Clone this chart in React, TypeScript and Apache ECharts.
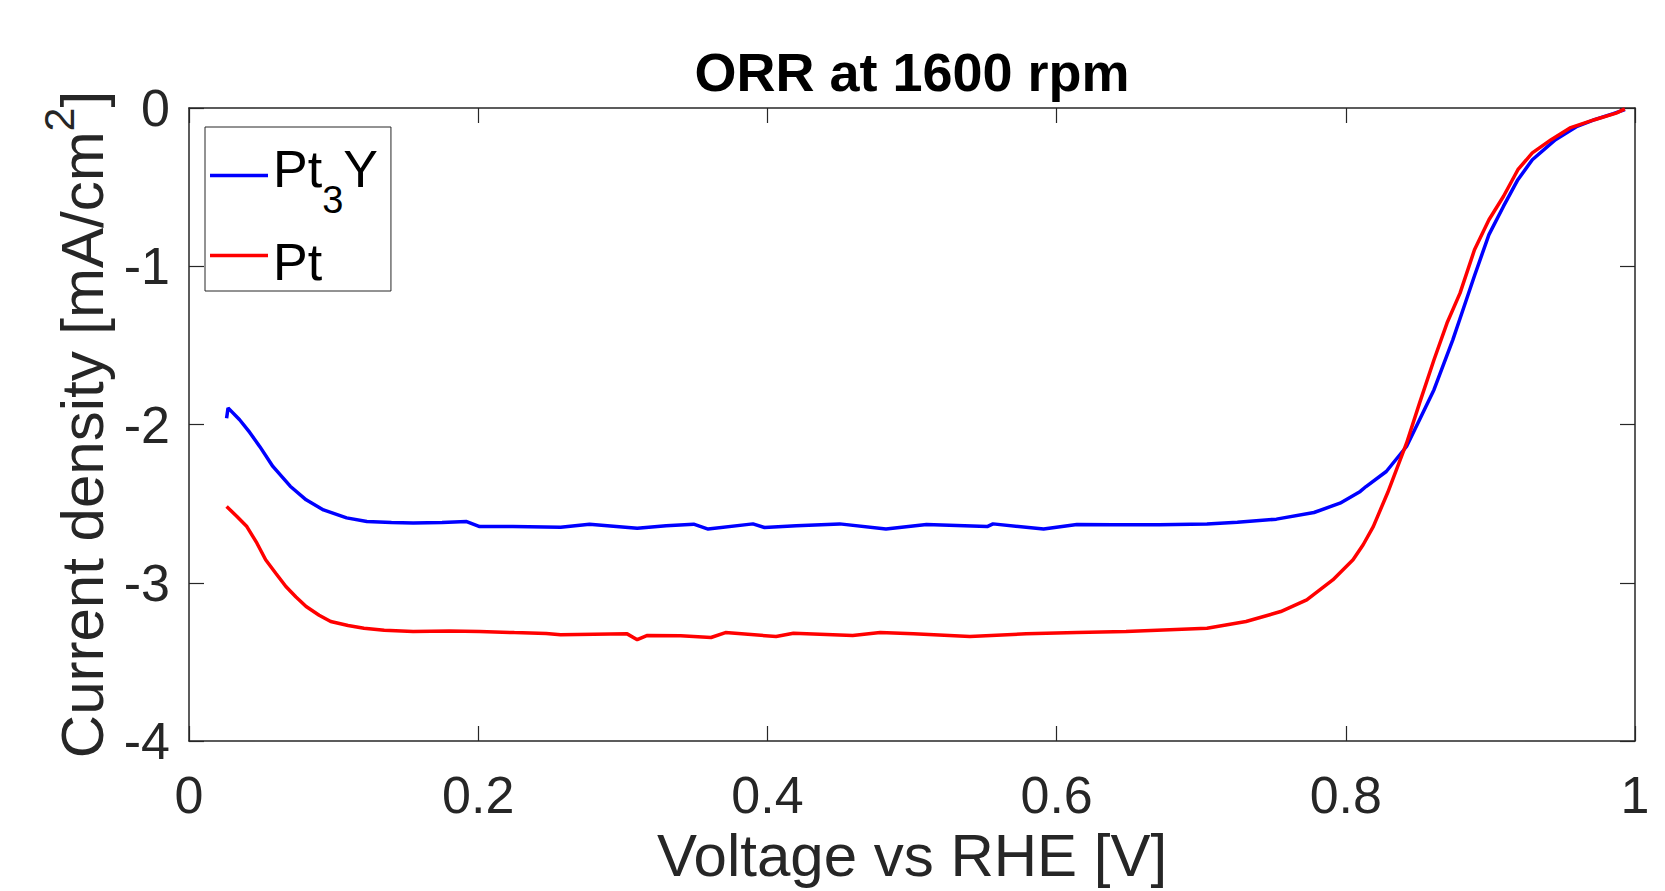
import React, { useEffect, useRef } from "react";
import * as echarts from "echarts";

// ---- Data (V vs RHE, mA/cm^2) ----
const voltagePt3Y = [
  0.026, 0.027, 0.035, 0.042, 0.049, 0.058, 0.070, 0.081, 0.093, 0.109, 0.123, 0.140,
  0.155, 0.175, 0.192, 0.201, 0.224, 0.257, 0.277, 0.310, 0.330, 0.349, 0.359, 0.390,
  0.398, 0.420, 0.450, 0.482, 0.510, 0.552, 0.556, 0.591, 0.614, 0.639, 0.671, 0.704,
  0.725, 0.752, 0.778, 0.796, 0.810, 0.814, 0.828, 0.842, 0.851, 0.861, 0.874, 0.879,
  0.889, 0.899, 0.909, 0.919, 0.929, 0.945, 0.960, 0.972, 0.985, 0.993,
];
const currentPt3Y = [
  -1.96, -1.895, -1.97, -2.05, -2.14, -2.265, -2.39, -2.476, -2.54, -2.59, -2.613, -2.62,
  -2.623, -2.62, -2.613, -2.645, -2.645, -2.649, -2.63, -2.655, -2.64, -2.63, -2.661, -2.628,
  -2.651, -2.64, -2.628, -2.661, -2.632, -2.645, -2.628, -2.661, -2.632, -2.634, -2.634, -2.628,
  -2.617, -2.598, -2.556, -2.497, -2.423, -2.392, -2.297, -2.139, -1.97, -1.78, -1.465, -1.33,
  -1.06, -0.8, -0.622, -0.453, -0.327, -0.2, -0.116, -0.074, -0.035, -0.01,
];

const voltagePt = [
  0.026, 0.033, 0.040, 0.047, 0.053, 0.060, 0.067, 0.074, 0.081, 0.090, 0.098, 0.110,
  0.121, 0.135, 0.155, 0.180, 0.201, 0.225, 0.247, 0.257, 0.280, 0.303, 0.310, 0.317,
  0.340, 0.361, 0.371, 0.406, 0.418, 0.459, 0.478, 0.501, 0.540, 0.579, 0.614, 0.648,
  0.704, 0.731, 0.755, 0.773, 0.791, 0.805, 0.812, 0.819, 0.829, 0.842, 0.851, 0.861,
  0.870, 0.879, 0.889, 0.899, 0.909, 0.919, 0.929, 0.942, 0.955, 0.972, 0.987, 0.993,
];
const currentPt = [
  -2.518, -2.58, -2.645, -2.75, -2.855, -2.94, -3.024, -3.09, -3.15, -3.205, -3.245, -3.27,
  -3.287, -3.3, -3.308, -3.305, -3.308, -3.315, -3.32, -3.329, -3.325, -3.323, -3.36, -3.333,
  -3.335, -3.346, -3.315, -3.34, -3.319, -3.333, -3.315, -3.323, -3.34, -3.323, -3.315, -3.308,
  -3.287, -3.245, -3.182, -3.108, -2.982, -2.855, -2.76, -2.645, -2.43, -2.118, -1.865, -1.591,
  -1.359, -1.17, -0.896, -0.706, -0.559, -0.39, -0.284, -0.2, -0.126, -0.074, -0.032, -0.006,
];

const seriesNames = ["Pt3Y", "Pt"];
const seriesColors = ["#0000FF", "#FF0000"];
const xTicks = { min: 0, max: 1, interval: 0.2 };
const yTicks = { min: -4, max: 0, interval: 1 };

const FONT = "'Liberation Sans', Arial, Helvetica, sans-serif";
const AX = "#262626";

function zip(xs: number[], ys: number[]) {
  return xs.map((x, i) => [x, ys[i]]);
}

export default function App() {
  const ref = useRef<HTMLDivElement>(null);
  useEffect(() => {
    if (!ref.current) return;
    const chart = echarts.init(ref.current, null, { renderer: "svg" });
    const axisLine = { show: true, onZero: false, lineStyle: { color: AX, width: 1.5 } };
    const tick = { show: true, inside: true, length: 15, lineStyle: { color: AX, width: 1.2 } };
    chart.setOption({
      animation: false,
      backgroundColor: "#ffffff",
      textStyle: { fontFamily: FONT },
      title: {
        text: "ORR at 1600 rpm",
        left: 912,
        textAlign: "center",
        top: 45,
        padding: 0,
        textStyle: { fontFamily: FONT, fontWeight: "bold", fontSize: 54, color: "#000" },
      },
      grid: { left: 189, right: 30, top: 108, bottom: 150, containLabel: false, outerBoundsMode: "none" },
      legend: {
        data: seriesNames,
        orient: "vertical",
        left: 205,
        top: 127,
        padding: [16, 13, 3, 5],
        itemGap: 17,
        itemWidth: 58,
        itemHeight: 3.5,
        icon: "rect",
        borderColor: AX,
        borderWidth: 1,
        backgroundColor: "#fff",
        formatter: (name: string) => (name === "Pt3Y" ? "{a|Pt}{s|3}{a|Y}" : "{b|Pt}"),
        textStyle: {
          fontFamily: FONT,
          color: "#000",
          rich: {
            a: { fontFamily: FONT, fontSize: 52, lineHeight: 65, verticalAlign: "top", color: "#000" },
            s: { fontFamily: FONT, fontSize: 38, lineHeight: 38, verticalAlign: "top", padding: [38, 0, 0, 0], color: "#000" },
            b: { fontFamily: FONT, fontSize: 52, lineHeight: 65, verticalAlign: "bottom", color: "#000" },
          },
        },
      },
      xAxis: [
        {
          type: "value",
          ...xTicks,
          position: "bottom",
          axisLine,
          axisTick: tick,
          splitLine: { show: false },
          axisLabel: { fontFamily: FONT, fontSize: 52, color: AX, margin: 28 },
          name: "Voltage vs RHE [V]",
          nameLocation: "middle",
          nameGap: 83,
          nameTextStyle: { fontFamily: FONT, fontSize: 60, lineHeight: 60, color: AX },
        },
        {
          type: "value",
          ...xTicks,
          position: "top",
          axisLine,
          axisTick: tick,
          splitLine: { show: false },
          axisLabel: { show: false },
        },
      ],
      yAxis: [
        {
          type: "value",
          ...yTicks,
          position: "left",
          axisLine,
          axisTick: tick,
          splitLine: { show: false },
          axisLabel: { fontFamily: FONT, fontSize: 52, color: AX, margin: 19, padding: [8, 0, 0, 0] },
          name: "{n|Current density [mA/cm}{p|2}{n|]}",
          nameLocation: "middle",
          nameGap: 64,
          nameTextStyle: {
            fontFamily: FONT,
            color: AX,
            rich: {
              n: { fontFamily: FONT, fontSize: 60, lineHeight: 60, verticalAlign: "top", padding: [15, 0, 0, 0], color: AX },
              p: { fontFamily: FONT, fontSize: 43, lineHeight: 43, verticalAlign: "top", color: AX },
            },
          },
        },
        {
          type: "value",
          ...yTicks,
          position: "right",
          axisLine,
          axisTick: tick,
          splitLine: { show: false },
          axisLabel: { show: false },
        },
      ],
      series: [
        {
          name: seriesNames[0],
          type: "line",
          data: zip(voltagePt3Y, currentPt3Y),
          showSymbol: false,
          symbol: "none",
          color: seriesColors[0],
          lineStyle: { color: seriesColors[0], width: 3.5 },
          xAxisIndex: 0,
          yAxisIndex: 0,
        },
        {
          name: seriesNames[1],
          type: "line",
          data: zip(voltagePt, currentPt),
          showSymbol: false,
          symbol: "none",
          color: seriesColors[1],
          lineStyle: { color: seriesColors[1], width: 3.5 },
          xAxisIndex: 0,
          yAxisIndex: 0,
        },
      ],
    });
    return () => chart.dispose();
  }, []);
  return (
    <div
      ref={ref}
      style={{ position: "fixed", left: 0, top: 0, width: 1665, height: 891, background: "#fff" }}
    />
  );
}
